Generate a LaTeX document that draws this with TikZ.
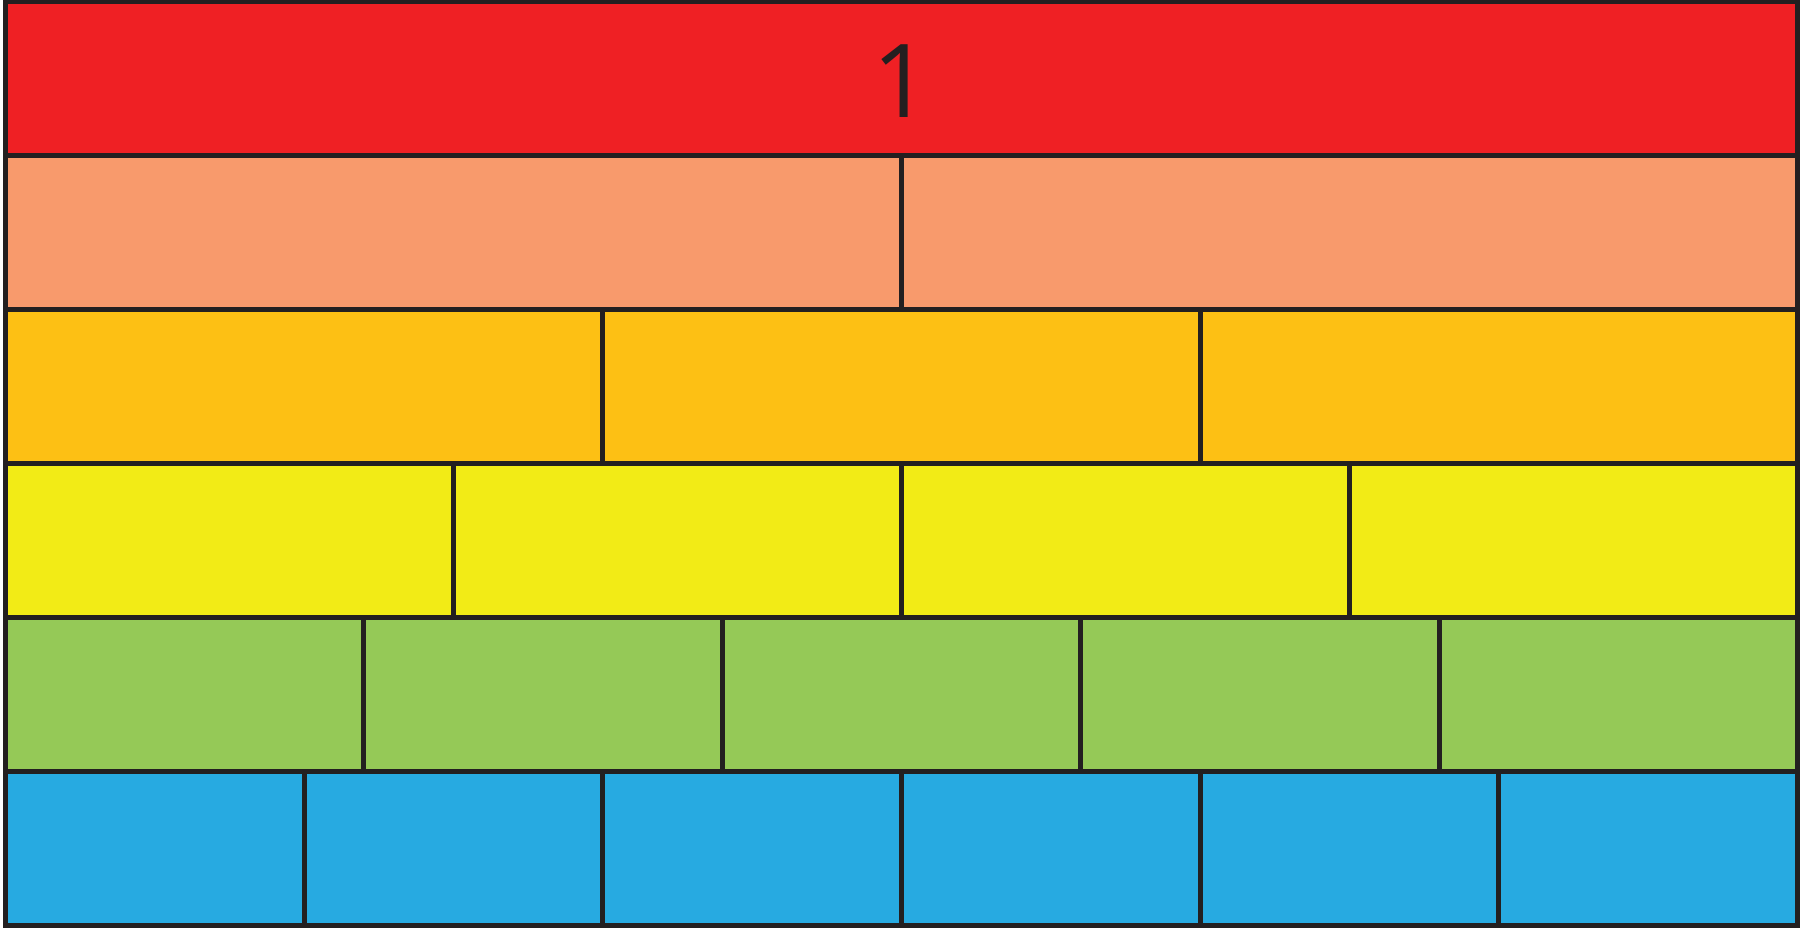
\documentclass[tikz,border=0pt]{standalone}
\usepackage{fontspec}
\setmainfont{Open Sans}
\definecolor{barline}{RGB}{35, 31, 32}
\definecolor{barred}{RGB}{239, 32, 36}
\definecolor{barorange}{RGB}{248, 154, 108}
\definecolor{baramber}{RGB}{253, 192, 20}
\definecolor{baryellow}{RGB}{242, 235, 22}
\definecolor{bargreen}{RGB}{149, 201, 87}
\definecolor{barblue}{RGB}{39, 170, 225}
\usetikzlibrary{positioning, calc}

\begin{document}
\begin{tikzpicture}[x=0.01cm, y=-0.01cm,
    fracpiece/.style={draw=barline, line width=1.42pt}]
  \useasboundingbox (0,0) rectangle (1805,928);
  % one row per denominator, split into equal pieces
  \foreach \n/\col in {1/barred, 2/barorange, 3/baramber, 4/baryellow, 5/bargreen, 6/barblue} {
    \foreach \i in {1,...,\n} {
      \filldraw[fracpiece, fill=\col] ({5.5+1792*(\i-1)/\n}, {2+154*(\n-1)}) rectangle ({5.5+1792*\i/\n}, {2+154*\n});
    }
  }
  \node[text=barline, font=\fontsize{29}{29}\selectfont] (whole) at (901.5,81.5) {1};
\end{tikzpicture}
\end{document}
